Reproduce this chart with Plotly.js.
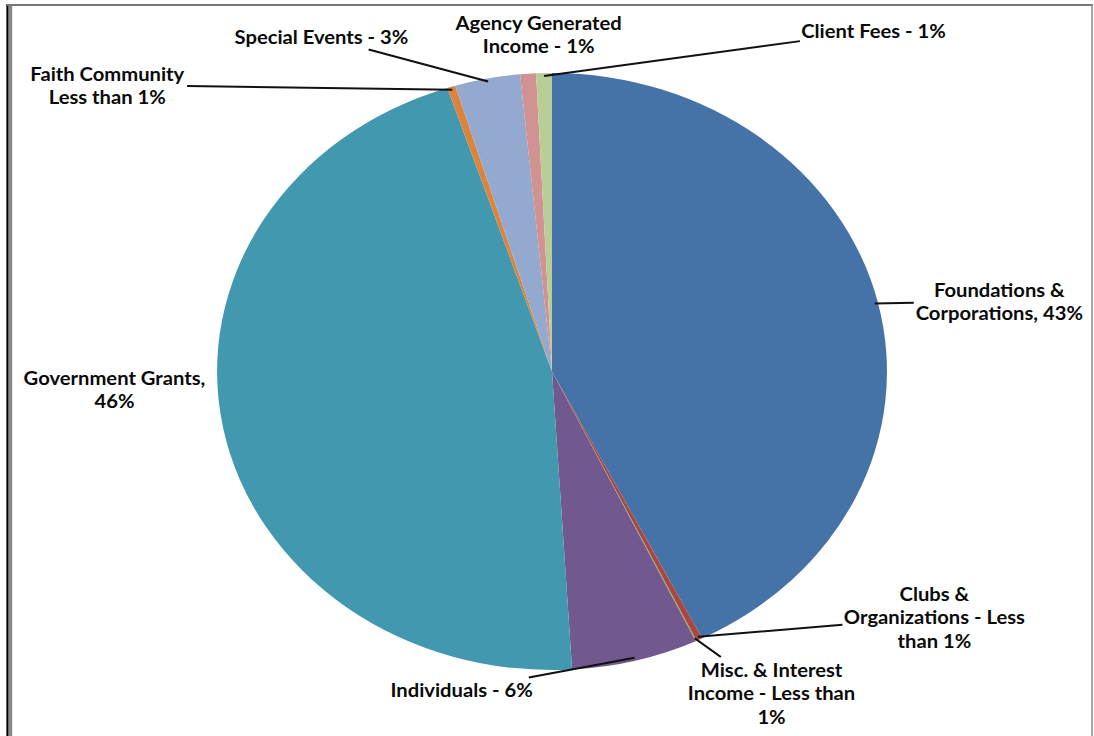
<!DOCTYPE html>
<html>
<head>
<meta charset="utf-8">
<script src="https://cdn.plot.ly/plotly-3.0.1.min.js"></script>
<style>
  html, body { margin: 0; padding: 0; background: #fff; overflow: hidden; }
  #chart { width: 975px; height: 736px; transform: scaleX(1.1221); transform-origin: 0 0; }
</style>
</head>
<body>
<div id="chart"></div>
<script>
// ---- data ----
const categories = [
  "Foundations & Corporations",
  "Clubs & Organizations",
  "Misc. & Interest Income",
  "Individuals",
  "Government Grants",
  "Faith Community",
  "Special Events",
  "Agency Generated Income",
  "Client Fees"
];
const shares = [42.6, 0.3, 0.05, 6.1, 45.9, 0.4, 3.14, 0.76, 0.76];
const labelTexts = [
  "Foundations &<br>Corporations, 43%",
  "Clubs &<br>Organizations - Less<br>than 1%",
  "Misc. & Interest<br>Income - Less than<br>1%",
  "Individuals - 6%",
  "Government Grants,<br>46%",
  "Faith Community<br>Less than 1%",
  "Special Events - 3%",
  "Agency Generated<br>Income - 1%",
  "Client Fees - 1%"
];
const sliceColors = ["#4572A7", "#AA4643", "#89A54E", "#71588F", "#4198AF", "#DB843D", "#93A9CF", "#D19392", "#B9CD96"];

// ---- layout helpers (positions, not data) ----
const W = 975, H = 736, SX = 1094 / 975;
const cx = 552 / SX, cy = 371.5, R = 298.5;
// label centres in reference pixel coordinates, and whether a leader line is drawn
const labelPos = [
  [999, 301, true],
  [935, 617, true],
  [771, 693, true],
  [462, 690, true],
  [114, 389, false],
  [108, 85, true],
  [322, 37, true],
  [538, 35, false],
  [874, 31, true]
];

const total = shares.reduce((a, b) => a + b, 0);
let cum = 0;
const annotations = shares.map((v, i) => {
  const mid = (cum + v / 2) / total * 2 * Math.PI;
  cum += v;
  const tx = cx + R * 0.99 * Math.sin(mid);
  const ty = cy - R * 0.99 * Math.cos(mid);
  const lx = labelPos[i][0] / SX, ly = labelPos[i][1];
  const base = {
    text: labelTexts[i],
    xref: "paper", yref: "paper",
    align: "center",
    font: { family: "Lato, 'Open Sans', sans-serif", size: 18, color: "#0a0a0a", weight: 700 }
  };
  if (labelPos[i][2]) {
    return Object.assign(base, {
      x: tx / W, y: 1 - ty / H,
      showarrow: true, arrowhead: 0, arrowwidth: 2, arrowcolor: "#111",
      standoff: 0, startstandoff: 0,
      ax: lx - tx, ay: ly - ty
    });
  }
  return Object.assign(base, {
    x: lx / W, y: 1 - ly / H, showarrow: false, xanchor: "center", yanchor: "middle"
  });
});

const trace = {
  type: "pie",
  labels: categories,
  values: shares,
  sort: false,
  direction: "clockwise",
  rotation: 0,
  textinfo: "none",
  hoverinfo: "none",
  marker: { colors: sliceColors, line: { width: 0 } },
  domain: { x: [(cx - R) / W, (cx + R) / W], y: [1 - (cy + R) / H, 1 - (cy - R) / H] }
};

const layout = {
  width: W, height: H,
  margin: { l: 0, r: 0, t: 0, b: 0 },
  paper_bgcolor: "#fff",
  showlegend: false,
  annotations: annotations,
  shapes: [
    { type: "line", xref: "paper", yref: "paper", x0: 7.5 / 1094, x1: 7.5 / 1094, y0: -0.01, y1: 1 - 4 / H, line: { color: "#000", width: 2 } },
    { type: "line", xref: "paper", yref: "paper", x0: 10.5 / 1094, x1: 10.5 / 1094, y0: -0.01, y1: 1 - 4 / H, line: { color: "#888", width: 3 } },
    { type: "line", xref: "paper", yref: "paper", x0: 7 / 1094, x1: 1093 / 1094, y0: 1 - 5 / H, y1: 1 - 5 / H, line: { color: "#777", width: 2 } },
    { type: "line", xref: "paper", yref: "paper", x0: 1092 / 1094, x1: 1092 / 1094, y0: -0.01, y1: 1 - 5 / H, line: { color: "#999", width: 1.5 } }
  ]
};

Plotly.newPlot("chart", [trace], layout, { staticPlot: true, displayModeBar: false });
</script>
</body>
</html>
